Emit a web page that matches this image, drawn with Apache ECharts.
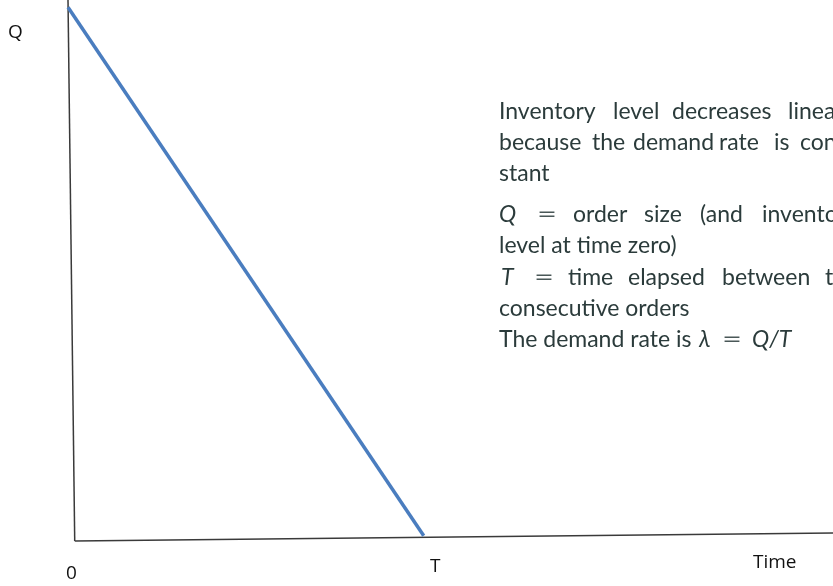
<!DOCTYPE html>
<html>
<head>
<meta charset="utf-8">
<script src="https://cdn.jsdelivr.net/npm/echarts@6/dist/echarts.min.js"></script>
<style>html,body{margin:0;padding:0;background:#fff}#c{width:833px;height:586px}</style>
</head>
<body>
<div id="c"></div>
<script>
// Data (x: time units 0..100 across the plot, y: inventory units 0..100)
const inventoryTime = [0, 46.5];
const inventoryLevel = [98.65, 0.98];
const yAxisLineX = [0, 0.88];
const yAxisLineY = [100, 0];
const xAxisLineX = [0.88, 100];
const xAxisLineY = [0, 1.48];
const axisLabels = ['Q', '0', 'T', 'Time'];

const toPairs = (xs, ys) => xs.map((x, i) => [x, ys[i]]);

const textColor = '#2b3b3b';
const font = 'Lato, "Open Sans", sans-serif';
const fs = 23;

function word(txt, x, cy, italic) {
  return {type: 'text', x: x, y: cy, silent: true,
    style: {text: txt, fill: textColor, verticalAlign: 'middle', align: 'left',
      font: (italic ? 'italic ' : '') + fs + 'px ' + font}};
}
function eq(x, cy) {
  return {type: 'text', x: x, y: cy, scaleX: 1.5, silent: true,
    style: {text: '=', fill: '#4a5858', verticalAlign: 'middle', align: 'left', font: fs + 'px ' + font}};
}
const L = [112, 143, 174, 215, 246, 278, 309, 340];
const annot = [
  word('Inventory', 499, L[0]), word('level', 613, L[0]), word('decreases', 672, L[0]), word('linearly', 788, L[0]),
  word('because', 499, L[1]), word('the', 592, L[1]), word('demand', 633, L[1]), word('rate', 719, L[1]), word('is', 774, L[1]), word('constant', 800, L[1]),
  word('stant', 499, L[2]),
  word('Q', 499, L[3], true), eq(537, L[3]), word('order', 573, L[3]), word('size', 644, L[3]), word('(and', 700, L[3]), word('inventory', 762, L[3]),
  word('level at time zero)', 499, L[4]),
  word('T', 501, L[5], true), eq(534, L[5]), word('time', 568, L[5]), word('elapsed', 628, L[5]), word('between', 722, L[5]), word('two', 825, L[5]),
  word('consecutive orders', 499, L[6]),
  word('The demand rate is', 499, L[7]), word('λ', 699, L[7], true), eq(722, L[7]), word('Q/T', 752, L[7], true)
];

const labelStyle = (t) => ({text: t, fill: '#111', verticalAlign: 'middle', align: 'left', font: '19px "Open Sans", sans-serif'});
const labels = [
  {type: 'text', x: 8, y: 33, silent: true, style: labelStyle(axisLabels[0])},
  {type: 'text', x: 66, y: 574, silent: true, style: labelStyle(axisLabels[1])},
  {type: 'text', x: 430, y: 567, silent: true, style: labelStyle(axisLabels[2])},
  {type: 'text', x: 753, y: 563, silent: true, style: labelStyle(axisLabels[3])}
];

const chart = echarts.init(document.getElementById('c'), null, {renderer: 'canvas'});
chart.setOption({
  animation: false,
  backgroundColor: '#fff',
  grid: {left: 68, top: 0, width: 765, height: 541},
  xAxis: {type: 'value', min: 0, max: 100, show: false},
  yAxis: {type: 'value', min: 0, max: 100, show: false},
  graphic: annot.concat(labels),
  series: [
    {type: 'line', data: toPairs(yAxisLineX, yAxisLineY), symbol: 'none', clip: false, silent: true,
     lineStyle: {color: '#3a3a3a', width: 1.5}},
    {type: 'line', data: toPairs(xAxisLineX, xAxisLineY), symbol: 'none', clip: false, silent: true,
     lineStyle: {color: '#3a3a3a', width: 1.5}},
    {type: 'line', data: toPairs(inventoryTime, inventoryLevel), symbol: 'none', clip: false, silent: true,
     lineStyle: {color: '#4a7dbf', width: 3.5}}
  ]
});
</script>
</body>
</html>
